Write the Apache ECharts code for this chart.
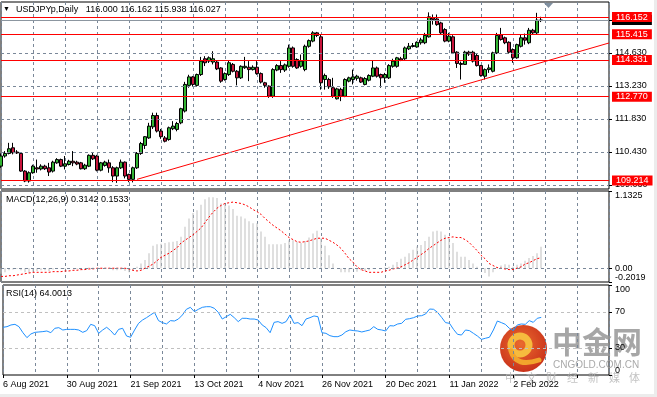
<!DOCTYPE html>
<html>
<head>
<meta charset="utf-8">
<script src="https://cdn.jsdelivr.net/npm/echarts@6/dist/echarts.min.js"></script>
<style>
html,body{margin:0;padding:0;background:#fff;}
#chart{width:657px;height:397px;}
</style>
</head>
<body>
<div id="chart"></div>
<script>
var chart = echarts.init(document.getElementById('chart'), null, {renderer: 'canvas'});

// daily bars, 6 Aug 2021 .. 11 Feb 2022
var opens = [109.82,110.25,110.36,110.60,110.42,110.36,109.61,109.19,109.54,109.75,109.70,109.82,109.75,109.61,109.96,110.10,109.82,109.89,110.03,109.99,
109.96,109.71,109.82,110.28,110.25,109.65,109.85,109.96,109.75,109.40,109.75,109.99,109.47,109.26,109.75,110.36,110.70,111.02,111.49,111.97,
111.31,111.02,110.95,111.41,111.38,111.66,112.16,113.25,113.61,113.25,113.71,114.38,114.28,114.24,114.24,113.99,113.50,113.71,114.14,113.85,
113.57,114.00,114.02,113.92,114.02,113.75,113.36,113.22,112.79,113.90,114.09,113.90,114.06,114.84,114.35,114.06,113.92,114.91,115.13,115.48,
115.31,113.50,113.50,113.15,112.68,113.08,112.79,113.43,113.50,113.55,113.57,113.29,113.47,113.64,113.99,113.71,113.57,113.57,114.06,114.06,
114.38,114.38,114.80,114.90,114.88,115.06,115.06,115.31,116.12,116.07,115.90,115.62,115.13,115.31,114.66,114.18,114.14,114.66,114.66,114.52,
114.09,113.64,113.92,113.85,114.63,115.40,115.27,115.08,114.77,114.42,114.91,115.27,115.06,115.59,115.48,116.000];
var highs = [110.36,110.46,110.81,110.81,110.50,110.40,109.65,109.60,109.88,110.10,109.90,109.88,109.96,110.05,110.16,110.14,110.25,110.09,110.46,110.05,
110.00,109.92,110.32,110.39,110.30,110.00,110.05,110.10,109.82,109.80,110.10,110.02,109.50,109.80,110.42,110.85,111.10,111.66,112.09,112.09,
111.40,111.10,111.50,111.73,111.70,112.30,113.40,113.70,113.65,113.75,114.46,114.49,114.48,114.70,114.30,114.02,113.80,114.32,114.20,113.90,
114.10,114.46,114.28,114.10,114.28,113.80,113.40,113.25,113.98,114.15,114.28,114.18,114.98,114.90,114.40,114.56,114.98,115.20,115.55,115.52,
115.40,113.75,113.57,113.57,113.15,113.15,113.55,113.62,113.92,113.70,113.62,113.60,113.72,114.31,114.05,113.75,113.78,114.15,114.38,114.46,
114.46,114.90,115.05,115.05,115.12,115.27,115.48,116.35,116.26,116.26,115.95,115.68,115.48,115.38,114.70,114.26,114.72,114.72,114.72,114.58,
114.12,113.97,114.14,114.68,115.48,115.69,115.32,115.12,114.82,115.02,115.41,115.45,115.69,115.65,116.33,116.162];
var lows = [109.75,110.18,110.32,110.32,110.34,109.58,109.14,109.12,109.50,109.54,109.64,109.66,109.40,109.55,109.92,109.78,109.68,109.85,109.82,109.86,
109.68,109.66,109.78,110.08,109.60,109.60,109.80,109.54,109.14,109.11,109.70,109.30,109.14,109.13,109.70,110.30,110.55,110.98,111.40,111.25,
110.98,110.83,110.90,111.35,111.30,111.60,112.10,113.15,113.20,113.20,113.65,114.07,114.20,114.14,113.90,113.36,113.45,113.65,113.80,113.25,
113.52,113.95,113.43,113.88,113.70,113.33,113.15,112.72,112.72,113.85,113.78,113.82,114.00,114.00,113.95,114.00,113.85,114.85,115.08,115.30,
113.07,113.07,113.10,112.72,112.65,112.58,112.75,113.38,113.29,113.45,113.35,113.25,113.42,113.60,113.58,113.15,113.36,113.52,114.00,114.00,
114.28,114.33,114.75,114.86,114.85,114.98,115.00,115.28,115.83,115.78,115.42,115.08,115.08,114.58,113.99,113.50,114.12,114.50,114.22,114.05,
113.62,113.50,113.78,113.80,114.58,115.15,115.00,114.60,114.21,114.38,114.86,114.98,115.00,115.42,115.42,115.938];
var closes = [110.25,110.36,110.56,110.39,110.38,109.61,109.19,109.54,109.82,109.70,109.82,109.71,109.57,109.99,110.10,109.82,109.92,110.03,109.96,109.91,
109.71,109.86,110.28,110.13,109.65,109.96,109.99,109.75,109.40,109.75,109.99,109.40,109.26,109.75,110.36,110.78,111.07,111.52,111.97,111.31,
111.07,110.88,111.45,111.52,111.63,112.26,113.29,113.61,113.29,113.71,114.28,114.21,114.42,114.38,113.95,113.43,113.75,114.21,113.85,113.57,
114.06,114.06,113.92,114.02,113.75,113.39,113.25,112.79,113.92,114.09,113.92,114.12,114.84,114.06,113.99,114.28,114.91,115.15,115.48,115.37,
113.36,113.67,113.19,112.79,113.10,112.79,113.50,113.57,113.61,113.64,113.39,113.54,113.67,113.99,113.64,113.57,113.71,114.09,114.28,114.42,
114.32,114.84,114.91,114.94,115.08,115.18,115.37,116.16,116.05,115.83,115.48,115.13,115.34,114.63,114.18,114.14,114.66,114.58,114.28,114.09,
113.67,113.92,113.99,114.63,115.37,115.20,115.06,114.66,114.42,114.98,115.27,115.17,115.59,115.48,116.02,116.027];

// MACD(12,26,9): main line (histogram) and signal
var macdMain = [-0.08,-0.06,-0.03,-0.02,-0.01,-0.03,-0.06,-0.07,-0.05,-0.04,-0.03,-0.03,-0.04,-0.02,-0.01,-0.01,-0.01,0.00,0.00,-0.01,
-0.02,-0.02,0.01,0.01,-0.01,-0.01,0.00,-0.01,-0.03,-0.03,-0.02,-0.04,-0.06,-0.04,0.02,0.07,0.12,0.22,0.33,0.35,
0.36,0.37,0.38,0.39,0.40,0.46,0.61,0.73,0.81,0.85,0.93,1.01,1.04,1.04,1.03,0.95,0.93,0.92,0.87,0.77,
0.76,0.73,0.69,0.66,0.66,0.54,0.46,0.35,0.35,0.35,0.35,0.37,0.41,0.41,0.39,0.37,0.40,0.45,0.51,0.55,
0.44,0.33,0.19,0.07,0.00,-0.06,-0.06,-0.06,-0.01,-0.05,-0.03,-0.04,-0.03,-0.01,0.00,-0.01,0.01,0.02,0.05,0.09,
0.14,0.17,0.22,0.27,0.32,0.34,0.40,0.46,0.54,0.55,0.54,0.49,0.44,0.37,0.24,0.17,0.17,0.12,0.07,0.02,
0.00,-0.07,-0.12,-0.06,0.01,0.04,0.06,0.05,0.02,0.05,0.07,0.11,0.15,0.18,0.22,0.3142];
var macdSignal = [-0.12,-0.12,-0.11,-0.11,-0.10,-0.09,-0.08,-0.07,-0.06,-0.06,-0.06,-0.06,-0.06,-0.05,-0.05,-0.05,-0.04,-0.04,-0.03,-0.03,
-0.02,-0.02,-0.01,-0.01,0.00,0.00,0.00,0.00,0.00,0.00,0.00,0.00,-0.01,-0.03,-0.04,-0.03,0.00,0.03,0.06,0.11,
0.16,0.19,0.22,0.26,0.30,0.37,0.41,0.45,0.49,0.54,0.59,0.67,0.75,0.82,0.88,0.92,0.95,0.96,0.97,0.96,
0.95,0.93,0.90,0.86,0.83,0.79,0.73,0.68,0.63,0.59,0.55,0.50,0.45,0.42,0.39,0.38,0.39,0.40,0.42,0.44,
0.44,0.44,0.41,0.38,0.34,0.29,0.22,0.14,0.09,0.02,-0.02,-0.04,-0.06,-0.06,-0.06,-0.06,-0.04,-0.03,-0.01,0.00,
0.02,0.05,0.08,0.12,0.16,0.20,0.24,0.29,0.33,0.37,0.41,0.44,0.45,0.46,0.45,0.45,0.42,0.38,0.32,0.26,
0.19,0.14,0.07,0.04,0.01,0.00,-0.01,-0.02,-0.02,0.00,0.02,0.06,0.08,0.11,0.14,0.1533];

// RSI(14)
var rsi = [53.0,53.7,55.6,56.3,53.7,47.0,41.5,45.6,47.4,47.8,48.2,48.9,47.0,51.9,52.6,50.0,50.7,50.7,50.7,50.0,
47.4,49.3,56.3,54.8,46.3,50.0,53.0,49.3,44.4,50.7,51.9,43.3,41.9,50.0,57.4,61.1,63.7,66.7,69.6,60.4,
58.2,56.7,60.4,60.0,62.2,66.7,73.0,75.2,70.4,73.0,75.2,75.9,75.9,74.1,69.6,62.2,64.8,67.4,63.7,59.3,
63.0,63.0,62.2,62.2,61.1,55.6,52.6,47.0,58.5,59.3,57.4,59.3,66.7,57.4,58.2,54.8,62.2,63.7,65.6,64.8,
47.0,46.3,43.7,42.6,42.6,44.4,48.1,50.0,49.3,48.9,47.8,48.9,50.0,53.7,50.7,50.0,48.9,54.8,54.5,56.7,
57.4,61.9,62.6,63.7,65.6,65.9,67.8,73.3,73.0,69.6,64.1,58.2,57.4,50.7,45.2,44.4,50.0,49.3,46.3,43.3,
39.6,40.8,41.9,50.0,60.0,58.2,56.3,51.9,49.3,55.6,56.7,56.3,60.4,58.5,63.0,64.0013];

var slotCount = 153;                 // bars plus the empty right margin
var dateLabels = ['6 Aug 2021','30 Aug 2021','21 Sep 2021','13 Oct 2021','4 Nov 2021','26 Nov 2021','20 Dec 2021','11 Jan 2022','2 Feb 2022'];
var priceTicks = [109.03,110.43,111.83,113.23,114.63,116.03];
var levelLines = [116.152,115.415,114.331,112.770,109.214];
var lastPrice = 116.027;
var trendLine = [[34,109.26],[152,115.05]];
var macdTicks = [-0.2019,0,1.1325];
var rsiTicks = [0,30,70,100];
var rsiLevels = [70,30];

var cats = [];
for (var i = 0; i < slotCount; i++) cats.push(String(i));

var candles = opens.map(function (o, i) { return [o, closes[i], lows[i], highs[i]]; });

var gridLine = {color: '#7a8899', type: [3, 3], width: 1};
var font = 'Liberation Sans';

function xAxisFor(idx, bottom) {
  return {
    type: 'category', gridIndex: idx, data: cats, boundaryGap: false,
    axisLine: {show: false},
    axisTick: {show: bottom, interval: function (i) { return i % 16 === 0; }, length: 3, lineStyle: {color: '#000'}},
    axisLabel: {
      show: bottom, interval: function (i) { return i % 16 === 0; },
      formatter: function (v) { var n = Number(v); return n % 16 === 0 ? (dateLabels[n / 16] || '') : ''; },
      align: 'left', fontSize: 9, color: '#000', fontFamily: font, margin: 5
    },
    splitLine: {show: true, interval: function (i) { return i % 8 === 0; }, lineStyle: gridLine}
  };
}

var priceMarks = priceTicks.map(function (p) {
  return {yAxis: p, lineStyle: gridLine, label: {show: false}};
});
priceMarks.push({
  yAxis: lastPrice, lineStyle: {color: '#8c96a0', type: 'solid', width: 1},
  label: {show: true, position: 'end', distance: 3, formatter: lastPrice.toFixed(3), color: '#fff',
    backgroundColor: '#000', fontSize: 9, fontFamily: font, lineHeight: 9, padding: [1, 4, 0, 4]}
});
levelLines.forEach(function (p) {
  priceMarks.push({
    yAxis: p, lineStyle: {color: '#ff0000', type: 'solid', width: 1},
    label: {show: true, position: 'end', distance: 3, formatter: p.toFixed(3), color: '#fff',
      backgroundColor: '#ff0000', fontSize: 9, fontFamily: font, lineHeight: 9, padding: [1, 4, 0, 4]}
  });
});

var option = {
  animation: false,
  backgroundColor: '#fff',
  textStyle: {fontFamily: font},
  title: [
    {text: '▼', left: 3, top: 6, padding: 0, textStyle: {fontSize: 7, fontWeight: 'normal', color: '#000'}},
    {text: 'USDJPYp,Daily   116.000 116.162 115.938 116.027', left: 16, top: 5, padding: 0,
      textStyle: {fontSize: 9, fontWeight: 'normal', color: '#000', fontFamily: font}},
    {text: 'MACD(12,26,9) 0.3142 0.1533', left: 6, top: 195, padding: 0,
      textStyle: {fontSize: 9, fontWeight: 'normal', color: '#000', fontFamily: font}},
    {text: 'RSI(14) 64.0013', left: 6, top: 289, padding: 0,
      textStyle: {fontSize: 9, fontWeight: 'normal', color: '#000', fontFamily: font}}
  ],
  grid: [
    {left: 1, top: 2, width: 608, height: 187, show: true, borderColor: '#000', borderWidth: 1, backgroundColor: '#fff'},
    {left: 1, top: 191, width: 608, height: 91, show: true, borderColor: '#000', borderWidth: 1, backgroundColor: '#fff'},
    {left: 1, top: 285, width: 608, height: 90, show: true, borderColor: '#000', borderWidth: 1, backgroundColor: '#fff'}
  ],
  xAxis: [xAxisFor(0, false), xAxisFor(1, false), xAxisFor(2, true)],
  yAxis: [
    {type: 'value', gridIndex: 0, position: 'right', min: 108.85, max: 116.79,
      axisLine: {show: false}, splitLine: {show: false},
      axisTick: {show: true, customValues: priceTicks, length: 3, lineStyle: {color: '#000'}},
      axisLabel: {customValues: priceTicks, formatter: function (v) { return v.toFixed(3); },
        fontSize: 9, color: '#000', fontFamily: font, margin: 6}},
    {type: 'value', gridIndex: 1, position: 'right', min: -0.2019, max: 1.1325,
      axisLine: {show: false}, splitLine: {show: false},
      axisTick: {show: true, customValues: macdTicks, length: 3, lineStyle: {color: '#000'}},
      axisLabel: {customValues: macdTicks, formatter: function (v) { return v === 0 ? '0.00' : v.toFixed(4); },
        fontSize: 9, color: '#000', fontFamily: font, margin: 6,
        verticalAlignMaxLabel: 'top', verticalAlignMinLabel: 'bottom'}},
    {type: 'value', gridIndex: 2, position: 'right', min: 0, max: 100,
      axisLine: {show: false}, splitLine: {show: false},
      axisTick: {show: true, customValues: rsiTicks, length: 3, lineStyle: {color: '#000'}},
      axisLabel: {customValues: rsiTicks, fontSize: 9, color: '#000', fontFamily: font, margin: 6,
        verticalAlignMaxLabel: 'top', verticalAlignMinLabel: 'bottom'}}
  ],
  series: [
    {
      type: 'candlestick', xAxisIndex: 0, yAxisIndex: 0, data: candles, barWidth: 3,
      itemStyle: {color: '#32b432', color0: '#c8143c', borderColor: '#000', borderColor0: '#000', borderWidth: 1},
      markLine: {symbol: 'none', silent: true, animation: false, data: priceMarks}
    },
    {
      type: 'line', xAxisIndex: 0, yAxisIndex: 0, data: trendLine, symbol: 'none',
      lineStyle: {color: '#ff0000', width: 1}, z: 3
    },
    {
      type: 'bar', xAxisIndex: 1, yAxisIndex: 1, data: macdMain, barWidth: 1,
      itemStyle: {color: '#c0c0c0'},
      markLine: {symbol: 'none', silent: true, animation: false, label: {show: false},
        data: [{yAxis: 0, lineStyle: gridLine}]}
    },
    {
      type: 'line', xAxisIndex: 1, yAxisIndex: 1, data: macdSignal, symbol: 'none',
      lineStyle: {color: '#ff0000', width: 1, type: [2, 2]}
    },
    {
      type: 'line', xAxisIndex: 2, yAxisIndex: 2, data: rsi, symbol: 'none',
      lineStyle: {color: '#1e90ff', width: 1},
      markLine: {symbol: 'none', silent: true, animation: false, label: {show: false},
        data: rsiLevels.map(function (v) { return {yAxis: v, lineStyle: {color: '#c0c0c0', type: [3, 3], width: 1}}; })}
    }
  ],
  graphic: [
    {type: 'rect', shape: {x: 0, y: 394, width: 657, height: 3}, style: {fill: '#ececec'}, silent: true},
    {type: 'rect', shape: {x: 654, y: 0, width: 3, height: 397}, style: {fill: '#ececec'}, silent: true},
    {type: 'polygon', shape: {points: [[544, 3], [553, 3], [548.5, 8]]}, style: {fill: '#8090a0'}, silent: true},
    {
      type: 'group', silent: true, z: 100,
      children: [
        {type: 'circle', shape: {cx: 523.5, cy: 348.5, r: 23.5},
          style: {fill: new echarts.graphic.RadialGradient(0.45, 0.4, 0.7, [
            {offset: 0, color: '#ea6a2e'}, {offset: 1, color: '#c52a18'}])}},
        {type: 'circle', shape: {cx: 520, cy: 345, r: 9},
          style: {fill: 'none', stroke: '#f6bb3e', lineWidth: 7}},
        {type: 'bezierCurve', shape: {x1: 511, y1: 351, cpx1: 516, cpy1: 368, x2: 539, y2: 360},
          style: {fill: 'none', stroke: '#f2a42c', lineWidth: 5, lineCap: 'round'}},
        {type: 'text', x: 552, y: 327, style: {text: '中金网', fill: 'rgba(150,150,150,0.85)',
          font: 'bold 30px "Noto Sans CJK SC"'}},
        {type: 'text', x: 553, y: 360, style: {text: 'CNGOLD.COM.CN', fill: 'rgba(160,160,160,0.9)',
          font: '10px "Liberation Sans"'}},
        {type: 'text', x: 505, y: 372, style: {text: '中', fill: 'rgba(180,180,180,0.8)', font: '11px "Noto Sans CJK SC"'}},
        {type: 'text', x: 526, y: 372, style: {text: '文', fill: 'rgba(180,180,180,0.8)', font: '11px "Noto Sans CJK SC"'}},
        {type: 'text', x: 546, y: 372, style: {text: '财', fill: 'rgba(180,180,180,0.8)', font: '11px "Noto Sans CJK SC"'}},
        {type: 'text', x: 567, y: 372, style: {text: '经', fill: 'rgba(180,180,180,0.8)', font: '11px "Noto Sans CJK SC"'}},
        {type: 'text', x: 588, y: 372, style: {text: '新', fill: 'rgba(180,180,180,0.8)', font: '11px "Noto Sans CJK SC"'}},
        {type: 'text', x: 609, y: 372, style: {text: '媒', fill: 'rgba(180,180,180,0.8)', font: '11px "Noto Sans CJK SC"'}},
        {type: 'text', x: 629, y: 372, style: {text: '体', fill: 'rgba(180,180,180,0.8)', font: '11px "Noto Sans CJK SC"'}}
      ]
    }
  ]
};

chart.setOption(option);
</script>
</body>
</html>
